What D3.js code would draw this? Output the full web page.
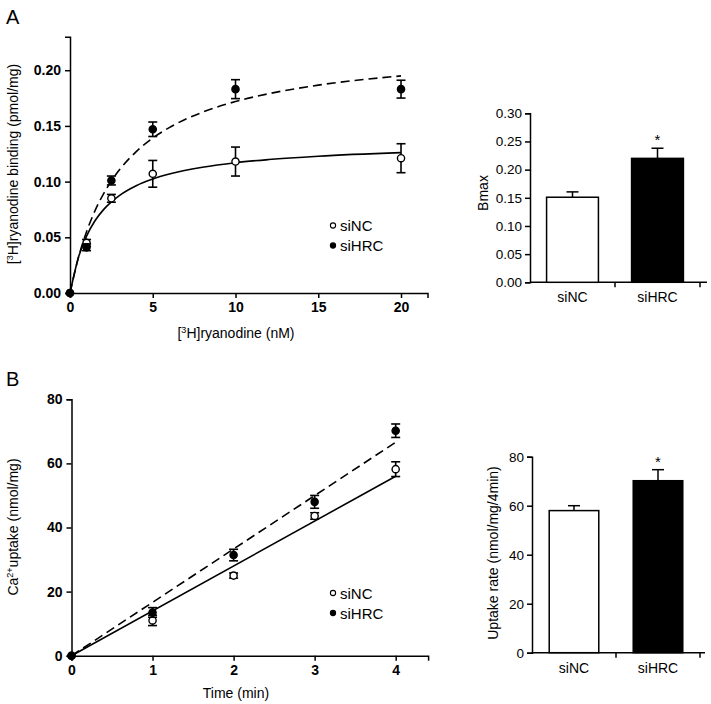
<!DOCTYPE html>
<html><head><meta charset="utf-8">
<script src="https://cdn.jsdelivr.net/npm/d3@7"></script>
<style>body{margin:0;background:#fff} svg{display:block} text{font-family:"Liberation Sans",Arial,sans-serif;fill:#000}</style>
</head><body><svg id="c" width="711" height="704"></svg>
<script>
// ---- Panel A: [3H]ryanodine binding ----
const ryanConc = [0, 1, 2.5, 5, 10, 20];
const bindNC = [0, 0.045, 0.085, 0.107, 0.118, 0.121];
const bindNCErr = [0, 0.003, 0.0035, 0.012, 0.013, 0.013];
const bindHRC = [0, 0.041, 0.101, 0.147, 0.183, 0.183];
const bindHRCErr = [0, 0.003, 0.004, 0.0065, 0.0085, 0.008];
// fitted curves
const fitConc = [0, 0.5, 1, 1.5, 2, 2.5, 3, 4, 5, 6, 8, 10, 12, 15, 20];
const fitNC = [0, 0.0315, 0.0511, 0.0646, 0.0744, 0.0818, 0.0877, 0.0963, 0.1023, 0.1068, 0.1129, 0.1170, 0.1198, 0.1228, 0.1260];
const fitHRC = [0, 0.0313, 0.0550, 0.0735, 0.0884, 0.1006, 0.1108, 0.1269, 0.1391, 0.1485, 0.1623, 0.1719, 0.1789, 0.1866, 0.1949];
const ryanTicks = [0, 5, 10, 15, 20];
const bindTicks = [0, 0.05, 0.10, 0.15, 0.20];
const groups = ["siNC", "siHRC"];
const bmaxValues = [0.151, 0.220];
const bmaxErr = [0.0095, 0.018];
const bmaxTicks = [0, 0.05, 0.10, 0.15, 0.20, 0.25, 0.30];
const bmaxSig = ["", "*"];

// ---- Panel B: Ca2+ uptake ----
const timeMin = [0, 1, 2, 3, 4];
const uptakeNC = [0, 11, 25, 43.6, 58.2];
const uptakeNCErr = [0, 1.6, 0.8, 1.0, 2.3];
const uptakeHRC = [0, 13.5, 31.4, 48, 70.2];
const uptakeHRCErr = [0, 1.5, 1.8, 2.0, 2.1];
const lineTime = [0, 4];
const lineNC = [0, 56];
const lineHRC = [0, 66.6];
const timeTicks = [0, 1, 2, 3, 4];
const uptakeTicks = [0, 20, 40, 60, 80];
const rateValues = [58, 70.2];
const rateErr = [2.0, 4.5];
const rateTicks = [0, 20, 40, 60, 80];
const rateSig = ["", "*"];

const svg = d3.select("#c");
const FONT = '"Liberation Sans", Arial, sans-serif';

function styleAxis(g, bold, size) {
  g.selectAll("path,line").attr("stroke", "#000").attr("stroke-width", 1.5);
  g.selectAll("text").attr("font-family", FONT).attr("font-size", size)
    .attr("font-weight", bold ? "bold" : "normal").attr("fill", "#000");
}

function scatterPanel(o) {
  const x = d3.scaleLinear().domain(o.xDomain).range(o.xRange);
  const y = d3.scaleLinear().domain(o.yDomain).range(o.yRange);
  const gx = svg.append("g").attr("transform", `translate(0,${o.yRange[0]})`)
    .call(d3.axisBottom(x).tickValues(o.xTicks).tickFormat(o.xFmt).tickSizeOuter(0).tickSize(5).tickPadding(4));
  styleAxis(gx, true, 14);
  const gy = svg.append("g").attr("transform", `translate(${o.xRange[0]},0)`)
    .call(d3.axisLeft(y).tickValues(o.yTicks).tickFormat(o.yFmt).tickSizeOuter(0).tickSize(5).tickPadding(4));
  styleAxis(gy, true, 14);

  const line = d3.line().x(d => x(d[0])).y(d => y(d[1])).curve(o.curve);
  svg.append("path").datum(o.lineX.map((v, i) => [v, o.lineA[i]]))
    .attr("d", line).attr("fill", "none").attr("stroke", "#000").attr("stroke-width", 1.6);
  svg.append("path").datum(o.lineX.map((v, i) => [v, o.lineB[i]]))
    .attr("d", line).attr("fill", "none").attr("stroke", "#000").attr("stroke-width", 1.6)
    .attr("stroke-dasharray", "9,5");

  const series = [
    {vals: o.a, err: o.aErr, fill: "#fff"},
    {vals: o.b, err: o.bErr, fill: "#000"}
  ];
  series.forEach(s => {
    const g = svg.append("g");
    o.xs.forEach((xv, i) => {
      if (s.err[i] > 0) {
        const cx = x(xv), y1 = y(s.vals[i] + s.err[i]), y2 = y(s.vals[i] - s.err[i]);
        g.append("line").attr("x1", cx).attr("x2", cx).attr("y1", y1).attr("y2", y2).attr("stroke", "#000").attr("stroke-width", 1.6);
        [y1, y2].forEach(yy => g.append("line").attr("x1", cx - 4.5).attr("x2", cx + 4.5).attr("y1", yy).attr("y2", yy).attr("stroke", "#000").attr("stroke-width", 1.6));
      }
    });
    g.selectAll("circle").data(o.xs.map((xv, i) => [xv, s.vals[i]])).join("circle")
      .attr("cx", d => x(d[0])).attr("cy", d => y(d[1])).attr("r", 3.6)
      .attr("fill", s.fill).attr("stroke", "#000").attr("stroke-width", 1.4);
  });

  // legend
  const lg = svg.append("g");
  [{t: groups[0], fill: "#fff", yy: o.legY[0]}, {t: groups[1], fill: "#000", yy: o.legY[1]}].forEach(l => {
    lg.append("circle").attr("cx", 333).attr("cy", l.yy).attr("r", 2.6).attr("fill", l.fill).attr("stroke", "#000").attr("stroke-width", 1.1);
    lg.append("text").attr("x", 340).attr("y", l.yy + 5.5).attr("font-size", 15).text(l.t);
  });
  return {x, y};
}

function barPanel(o) {
  const x = d3.scaleBand().domain(groups).range(o.xRange).paddingInner(o.pad).paddingOuter(o.pad / 2);
  const y = d3.scaleLinear().domain(o.yDomain).range(o.yRange);
  const gy = svg.append("g").attr("transform", `translate(${o.xRange[0]},0)`)
    .call(d3.axisLeft(y).tickValues(o.yTicks).tickFormat(o.yFmt).tickSizeOuter(0).tickSize(5).tickPadding(3));
  styleAxis(gy, false, 13.5);
  // x axis line and category boundary ticks
  const y0 = o.yRange[0];
  svg.append("line").attr("x1", o.xRange[0]).attr("x2", o.axisEnd).attr("y1", y0).attr("y2", y0).attr("stroke", "#000").attr("stroke-width", 1.5);
  groups.forEach(gname => {
    const bx = x(gname) + x.bandwidth() + x.step() * o.pad / 2;
    svg.append("line").attr("x1", bx).attr("x2", bx).attr("y1", y0).attr("y2", y0 + 5).attr("stroke", "#000").attr("stroke-width", 1.5);
    svg.append("text").attr("x", x(gname) + x.bandwidth() / 2).attr("y", y0 + 20).attr("text-anchor", "middle").attr("font-size", 14).text(gname);
  });
  groups.forEach((gname, i) => {
    const cx = x(gname) + x.bandwidth() / 2;
    const top = y(o.values[i]), et = y(o.values[i] + o.err[i]);
    svg.append("line").attr("x1", cx).attr("x2", cx).attr("y1", top).attr("y2", et).attr("stroke", "#000").attr("stroke-width", 1.5);
    svg.append("line").attr("x1", cx - 6).attr("x2", cx + 6).attr("y1", et).attr("y2", et).attr("stroke", "#000").attr("stroke-width", 1.5);
    svg.append("rect").attr("x", x(gname)).attr("y", top).attr("width", x.bandwidth()).attr("height", y0 - top)
      .attr("fill", i === 0 ? "#fff" : "#000").attr("stroke", "#000").attr("stroke-width", 1.5);
    if (o.sig[i]) svg.append("text").attr("x", cx).attr("y", et - 3).attr("text-anchor", "middle").attr("font-size", 15).text(o.sig[i]);
  });
  svg.append("text").attr("transform", `translate(${o.titleX},${o.titleY}) rotate(-90)`).attr("text-anchor", "middle")
    .attr("font-size", 14).text(o.title);
}

// Panel labels
svg.append("text").attr("x", 6).attr("y", 24).attr("font-size", 20).text("A");
svg.append("text").attr("x", 6).attr("y", 386).attr("font-size", 20).text("B");

// Panel A scatter
scatterPanel({
  xDomain: [0, 21.6], xRange: [70, 427.5], yDomain: [0, 0.23], yRange: [293, 36.8],
  xTicks: ryanTicks, yTicks: bindTicks, xFmt: d3.format("d"), yFmt: d3.format(".2f"),
  xs: ryanConc, a: bindNC, aErr: bindNCErr, b: bindHRC, bErr: bindHRCErr,
  lineX: fitConc, lineA: fitNC, lineB: fitHRC, curve: d3.curveMonotoneX, legY: [225.5, 245.5]
});
const tA = svg.append("text").attr("x", 236).attr("y", 338).attr("text-anchor", "middle").attr("font-size", 14);
tA.append("tspan").text("[");
tA.append("tspan").attr("dy", -5).attr("font-size", 9).text("3");
tA.append("tspan").attr("dy", 5).text("H]ryanodine (nM)");
const tAy = svg.append("text").attr("transform", "translate(18,164) rotate(-90)").attr("text-anchor", "middle").attr("font-size", 14);
tAy.append("tspan").text("[");
tAy.append("tspan").attr("dy", -5).attr("font-size", 9).text("3");
tAy.append("tspan").attr("dy", 5).text("H]ryanodine binding (pmol/mg)");

// Panel A bars
barPanel({
  xRange: [530, 700], pad: 0.39, axisEnd: 707, yDomain: [0, 0.30], yRange: [282.3, 113.3],
  yTicks: bmaxTicks, yFmt: d3.format(".2f"), values: bmaxValues, err: bmaxErr, sig: bmaxSig,
  title: "Bmax", titleX: 488, titleY: 193
});

// Panel B scatter
scatterPanel({
  xDomain: [0, 4.4], xRange: [71.5, 428.1], yDomain: [0, 80], yRange: [655.7, 399.3],
  xTicks: timeTicks, yTicks: uptakeTicks, xFmt: d3.format("d"), yFmt: d3.format("d"),
  xs: timeMin, a: uptakeNC, aErr: uptakeNCErr, b: uptakeHRC, bErr: uptakeHRCErr,
  lineX: lineTime, lineA: lineNC, lineB: lineHRC, curve: d3.curveLinear, legY: [593, 613]
});
svg.append("text").attr("x", 236).attr("y", 698).attr("text-anchor", "middle").attr("font-size", 14).text("Time (min)");
const tBy = svg.append("text").attr("transform", "translate(18,527) rotate(-90)").attr("text-anchor", "middle").attr("font-size", 14);
tBy.append("tspan").text("Ca");
tBy.append("tspan").attr("dy", -5).attr("font-size", 9).text("2+");
tBy.append("tspan").attr("dy", 5).text("uptake (nmol/mg)");

// Panel B bars
barPanel({
  xRange: [532, 700], pad: 0.41, axisEnd: 705, yDomain: [0, 80], yRange: [652.7, 456.7],
  yTicks: rateTicks, yFmt: d3.format("d"), values: rateValues, err: rateErr, sig: rateSig,
  title: "Uptake rate (nmol/mg/4min)", titleX: 498, titleY: 553
});
</script></body></html>
